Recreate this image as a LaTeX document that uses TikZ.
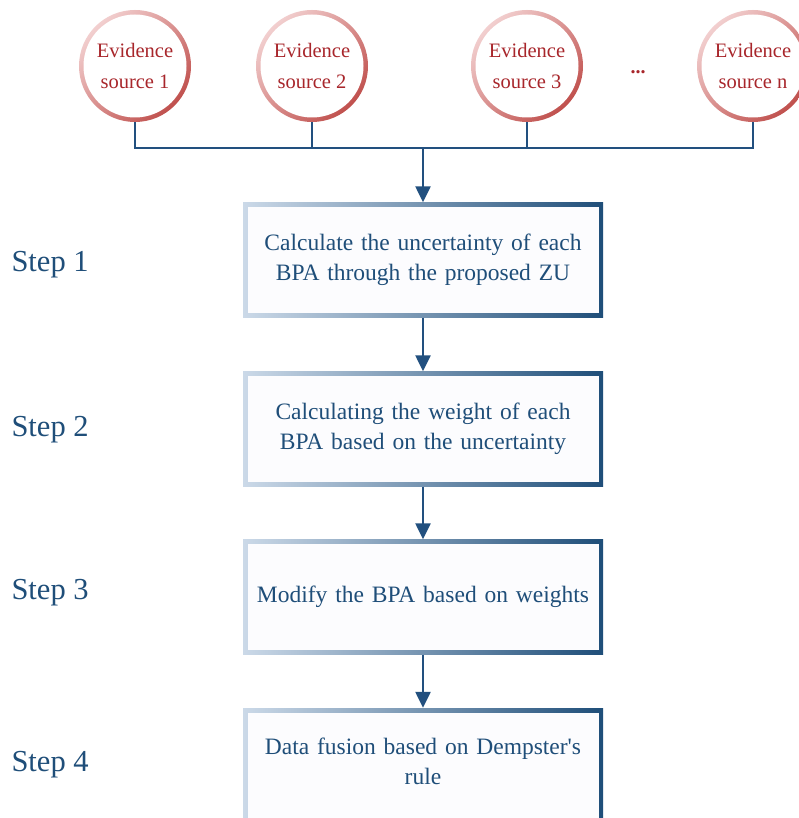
\documentclass[tikz,border=0pt]{standalone}
\usepackage{fontspec}
\setmainfont{Liberation Serif}
\newfontfamily\rawserif{Liberation Serif}
\usetikzlibrary{arrows.meta}
\definecolor{boxblue}{HTML}{1F4E79}
\definecolor{lightblue}{HTML}{CBD9E8}
\definecolor{evred}{HTML}{A8262B}
\definecolor{ringdark}{HTML}{C0504D}
\definecolor{ringlight}{HTML}{F2CFCF}
\definecolor{linecol}{HTML}{22507F}
\definecolor{boxfill}{HTML}{FCFCFE}
\begin{document}
\begin{tikzpicture}[x=1pt,y=-1pt,
  source/.style={circle, minimum size=112pt, inner sep=0pt, align=center,
    top color=ringlight, bottom color=ringdark, shading angle=45,
    text=evred, font=\fontsize{20.5}{31}\selectfont,
    path picture={\fill[white] (path picture bounding box.center) circle[radius=51.5pt];}},
  stepbox/.style={rectangle, minimum width=360pt, minimum height=115pt, inner sep=0pt,
    align=center, text width=350pt, left color=lightblue, right color=boxblue,
    text=boxblue, font=\fontsize{23.5}{30}\selectfont,
    path picture={\fill[boxfill] ([shift={(4.5pt,-4.5pt)}]path picture bounding box.north west)
       rectangle ([shift={(-4.5pt,4.5pt)}]path picture bounding box.south east);}},
  steplabel/.style={anchor=west, text=boxblue, font=\fontsize{30.5}{32}\selectfont},
  conn/.style={draw=linecol, line width=2.4pt},
  arr/.style={conn, -{Triangle[width=15pt,length=16pt]}}]
\useasboundingbox (0,0) rectangle (799,818);
\clip (0,0) rectangle (799,818);
\fill[white] (0,0) rectangle (799,818);

\node[source] (c1) at (135,66) {Evidence\\source 1};
\node[source] (c2) at (312,66) {Evidence\\source 2};
\node[source] (c3) at (527,66) {Evidence\\source 3};
\node[source] (cn) at (753,66) {Evidence\\source n};
\node[text=evred, font=\bfseries\fontsize{20}{20}\selectfont] (dots) at (638,72) {...};

\coordinate (bus) at (423,148);

\node[stepbox] (b1) at (423,260) {Calculate the uncertainty of each\\BPA through the proposed ZU};
\node[stepbox] (b2) at (423,429) {Calculating the weight of each\\BPA based on the uncertainty};
\node[stepbox] (b3) at (423,597) {Modify the BPA based on weights};
\node[stepbox, minimum height=120pt] (b4) at (423,768)
  {\raisebox{0pt}[0pt][0pt]{\parbox{350pt}{\centering Data fusion based on Dempster{\rawserif'}s\\rule}}};

\node[steplabel] (s1) at (8,265) {Step 1};
\node[steplabel] (s2) at (8,430) {Step 2};
\node[steplabel] (s3) at (8,593) {Step 3};
\node[steplabel] (s4) at (8,765) {Step 4};

\draw[conn] (c1.south) -- (c1.south |- bus) -- (cn.south |- bus) -- (cn.south);
\draw[conn] (c2.south) -- (c2.south |- bus);
\draw[conn] (c3.south) -- (c3.south |- bus);
\draw[arr] (bus) -- (b1.north);
\draw[arr] (b1.south) -- (b2.north);
\draw[arr] (b2.south) -- (b3.north);
\draw[arr] (b3.south) -- (b4.north);
\end{tikzpicture}
\end{document}
